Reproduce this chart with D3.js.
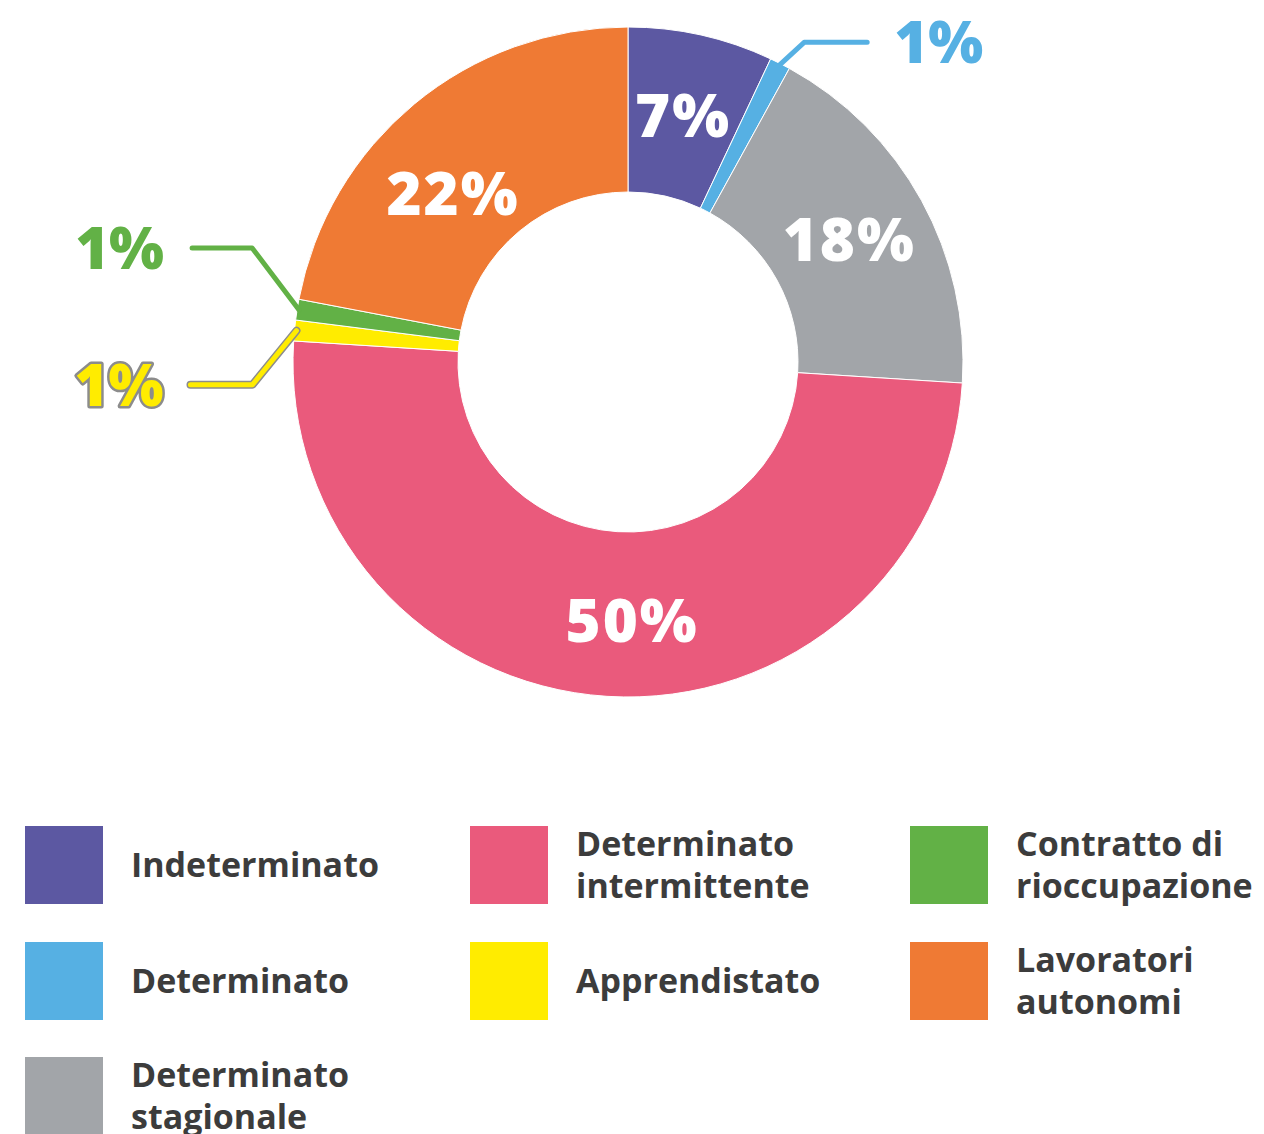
<!DOCTYPE html>
<html>
<head>
<meta charset="utf-8">
<script src="https://cdn.jsdelivr.net/npm/d3@7"></script>
<style>
  body { margin: 0; background: #fff; }
  svg { display: block; }
</style>
</head>
<body>
<script>
  const categories = ['Indeterminato', 'Determinato', 'Determinato stagionale', 'Determinato intermittente',
    'Apprendistato', 'Contratto di rioccupazione', 'Lavoratori autonomi'];
  const values = [7, 1, 18, 50, 1, 1, 22];
  const colors = ['#5c58a2', '#56b0e3', '#a2a5a9', '#ea5a7c', '#ffec00', '#62b146', '#ef7a34'];

  // legend filled row by row, three per row
  const legendOrder = [0, 3, 5, 1, 4, 6, 2];
  const legendLines = [
    ['Indeterminato'],
    ['Determinato'],
    ['Determinato', 'stagionale'],
    ['Determinato', 'intermittente'],
    ['Apprendistato'],
    ['Contratto di', 'rioccupazione'],
    ['Lavoratori', 'autonomi']
  ];

  const width = 1264;
  const height = 1134;
  const cx = 628, cy = 362;
  const outerR = 335, innerR = 170;

  const svg = d3.select('body')
          .append('svg')
          .attr('width', width)
          .attr('height', height);

  const pie = d3.pie().sort(null).value(d => d);
  const arcs = pie(values);

  const arc = d3.arc().innerRadius(innerR).outerRadius(outerR);

  const g = svg.append('g').attr('transform', `translate(${cx},${cy})`);

  g.selectAll('path')
          .data(arcs)
          .enter()
          .append('path')
          .attr('d', arc)
          .attr('fill', (d, i) => colors[i])
          .attr('stroke', '#fff')
          .attr('stroke-width', 1);

  const pctFont = '"Open Sans", Roboto, sans-serif';

  // the big slices have their labels pushed a bit off the centroid
  const nudge = { 3: [20, 7], 6: [-14, 27] };

  g.selectAll('text.inside')
          .data(arcs.filter(d => d.value > 5))
          .enter()
          .append('text')
          .attr('class', 'inside')
          .attr('x', d => arc.centroid(d)[0] + (nudge[d.index] ? nudge[d.index][0] : 0))
          .attr('y', d => arc.centroid(d)[1] + 21 + (nudge[d.index] ? nudge[d.index][1] : 0))
          .attr('text-anchor', 'middle')
          .attr('font-family', pctFont)
          .attr('font-weight', 800)
          .attr('font-size', '60px')
          .attr('letter-spacing', '2px')
          .attr('fill', '#fff')
          .text(d => d.value + '%');

  // callouts for the small slices
  const callouts = [
    { i: 1, elbow: [25, -23], end: [88, -23], anchor: 'start', tx: 115 },
    { i: 5, elbow: [-47, -62], end: [-107, -62], anchor: 'end', tx: -135 },
    { i: 4, elbow: [-44, 54], end: [-106, 54], anchor: 'end', tx: -133 }
  ];

  const point = d => {
    const a = (d.startAngle + d.endAngle) / 2;
    return [Math.sin(a) * (outerR - 2), -Math.cos(a) * (outerR - 2)];
  };

  callouts.forEach(c => {
    const d = arcs[c.i];
    const p = point(d);
    const pts = [p, [p[0] + c.elbow[0], p[1] + c.elbow[1]], [p[0] + c.end[0], p[1] + c.end[1]]];
    const isYellow = c.i === 4;
    if (isYellow) {
      g.append('path')
              .attr('d', d3.line()(pts))
              .attr('fill', 'none')
              .attr('stroke', '#8c8c8c')
              .attr('stroke-width', 8)
              .attr('stroke-linecap', 'round')
              .attr('stroke-linejoin', 'round');
    }
    g.append('path')
            .attr('d', d3.line()(pts))
            .attr('fill', 'none')
            .attr('stroke', colors[c.i])
            .attr('stroke-width', 5)
            .attr('stroke-linecap', 'round')
            .attr('stroke-linejoin', 'round');

    g.append('text')
            .attr('x', p[0] + c.tx)
            .attr('y', p[1] + c.end[1] + 21)
            .attr('text-anchor', c.anchor)
            .attr('font-family', pctFont)
            .attr('font-weight', 800)
            .attr('font-size', '58px')
            .attr('fill', colors[c.i])
            .attr('stroke', isYellow ? '#8c8c8c' : 'none')
            .attr('stroke-width', isYellow ? 5 : 0)
            .attr('paint-order', 'stroke')
            .attr('stroke-linejoin', 'round')
            .text(d.value + '%');
  });

  // legend
  const colX = [25, 470, 910];
  const rowY = [826, 942, 1057];
  const sw = 78;

  const legend = svg.append('g').attr('class', 'legend');

  legendOrder.forEach((k, n) => {
    const col = n % 3;
    const row = Math.floor(n / 3);
    const x = colX[col], y = rowY[row];
    legend.append('rect')
            .attr('x', x)
            .attr('y', y)
            .attr('width', sw)
            .attr('height', sw)
            .attr('fill', colors[k]);

    const lines = legendLines[k];
    const t = legend.append('text')
            .attr('x', x + sw + 28)
            .attr('y', y + sw / 2 + 12 - (lines.length - 1) * 21)
            .attr('font-family', '"Open Sans", sans-serif')
            .attr('font-weight', 700)
            .attr('font-size', '34px')
            .attr('fill', '#3c3c3c');
    lines.forEach((s, j) => {
      t.append('tspan')
              .attr('x', x + sw + 28)
              .attr('dy', j === 0 ? 0 : 42)
              .text(s);
    });
  });
</script>
</body>
</html>
